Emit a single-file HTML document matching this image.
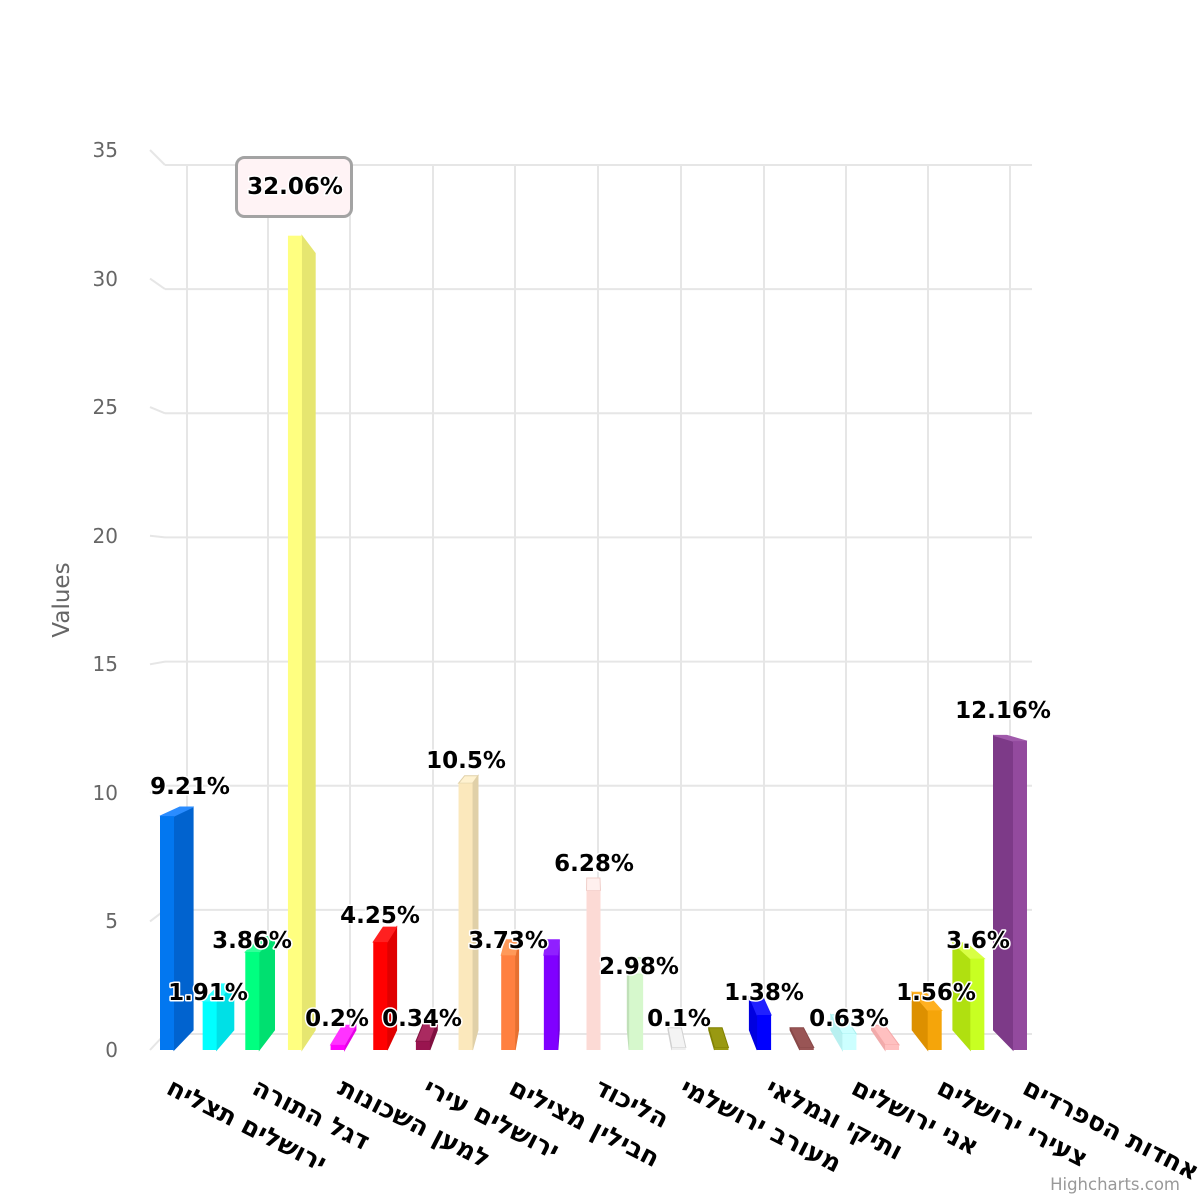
<!DOCTYPE html>
<html><head><meta charset="utf-8"><style>
html,body{margin:0;padding:0;background:#fff;}
svg{display:block;font-family:"DejaVu Sans","Liberation Sans",sans-serif;}
.dl{font-size:23px;font-weight:bold;fill:#000;stroke:#fff;stroke-width:3px;paint-order:stroke;stroke-linejoin:round;text-anchor:middle;}
.yl{font-size:20px;fill:#666;text-anchor:end;}
.xl{font-size:25.5px;font-weight:bold;fill:#000;}
</style></head><body>
<svg width="1200" height="1200" viewBox="0 0 1200 1200" xmlns="http://www.w3.org/2000/svg">
<rect width="1200" height="1200" fill="#fff"/>
<g stroke="#e6e6e6" stroke-width="2" fill="none">
<path d="M165 1034H1032M165 909.9H1032M165 785.7H1032M165 661.6H1032M165 537.4H1032M165 413.3H1032M165 289.1H1032M165 165H1032"/>
<path d="M150 1050L165 1034M150 921.4L165 909.9M150 792.9L165 785.7M150 664.3L165 661.6M150 535.7L165 537.4M150 407.1L165 413.3M150 278.6L165 289.1M150 150L165 165"/>
<path d="M187 165V1034M268 165V1034M350 165V1034M433 165V1034M515 165V1034M598 165V1034M681 165V1034M764 165V1034M846 165V1034M928 165V1034M1010 165V1034"/>
</g>
<g class="yl">
<text x="118" y="1057">0</text><text x="118" y="928">5</text><text x="118" y="800">10</text><text x="118" y="671">15</text><text x="118" y="543">20</text><text x="118" y="414">25</text><text x="118" y="286">30</text><text x="118" y="157">35</text>
</g>
<text transform="translate(69,600) rotate(-90)" text-anchor="middle" font-size="23" fill="#666">Values</text>

<g stroke-width="1">
<polygon points="174,1050 174,816.1 193.1,807 193.1,1030.1" fill="#0163cf" stroke="#0163cf"/>
<polygon points="160,816.1 174,816.1 193.1,807 179.8,807" fill="#2a8cff" stroke="#2a8cff"/>
<rect x="160" y="816.1" width="14" height="233.9" fill="#0277f0"/>
<polygon points="216.65,1050 216.65,1001.5 233.8,983.9 233.8,1030.1" fill="#00e0e6" stroke="#00e0e6"/>
<polygon points="202.65,1001.5 216.65,1001.5 233.8,983.9 220.5,983.9" fill="#33ffff" stroke="#33ffff"/>
<rect x="202.65" y="1001.5" width="14" height="48.5" fill="#00ffff"/>
<polygon points="259.3,1050 259.3,952 274.5,936.6 274.5,1030.1" fill="#00e070" stroke="#00e070"/>
<polygon points="245.3,952 259.3,952 274.5,936.6 261.2,936.6" fill="#33ff99" stroke="#33ff99"/>
<rect x="245.3" y="952" width="14" height="98" fill="#00ff80"/>
<polygon points="301.95,1050 301.95,235.7 315.2,253.3 315.2,1030.1" fill="#e6e670" stroke="#e6e670"/>
<rect x="287.95" y="235.7" width="14" height="814.3" fill="#ffff80"/>
<polygon points="344.6,1050 344.6,1044.9 355.9,1025.3 355.9,1030.1" fill="#e600e6" stroke="#e600e6"/>
<polygon points="330.6,1044.9 344.6,1044.9 355.9,1025.3 342.5,1025.3" fill="#ff33ff" stroke="#ff33ff"/>
<rect x="330.6" y="1044.9" width="14" height="5.1" fill="#ff00ff"/>
<polygon points="387.25,1050 387.25,942.05 396.6,927.1 396.6,1030.1" fill="#e00000" stroke="#e00000"/>
<polygon points="373.25,942.05 387.25,942.05 396.6,927.1 383.2,927.1" fill="#ff2020" stroke="#ff2020"/>
<rect x="373.25" y="942.05" width="14" height="107.95" fill="#ff0000"/>
<polygon points="429.9,1050 429.9,1041.4 437.3,1021.9 437.3,1030.1" fill="#801040" stroke="#801040"/>
<polygon points="415.9,1041.4 429.9,1041.4 437.3,1021.9 423.9,1021.9" fill="#aa2a60" stroke="#801040"/>
<rect x="415.9" y="1041.4" width="14" height="8.6" fill="#99144f"/>
<polygon points="472.55,1050 472.55,783.3 478,775.7 478,1030.1" fill="#e0d0a8" stroke="#e0d0a8"/>
<polygon points="458.55,783.3 472.55,783.3 478,775.7 464.6,775.7" fill="#fff2d0" stroke="#e0d0a8"/>
<rect x="458.55" y="783.3" width="14" height="266.7" fill="#fbe8bc"/>
<polygon points="515.2,1050 515.2,955.3 518.6,939.8 518.6,1030.1" fill="#e67030" stroke="#e67030"/>
<polygon points="501.2,955.3 515.2,955.3 518.6,939.8 505.3,939.8" fill="#ff9959" stroke="#ff9959"/>
<rect x="501.2" y="955.3" width="14" height="94.7" fill="#ff8040"/>
<polygon points="557.85,1050 557.85,955.3 559.3,939.8 559.3,1030.1" fill="#7000e0" stroke="#7000e0"/>
<polygon points="543.85,955.3 557.85,955.3 559.3,939.8 546,939.8" fill="#9020ff" stroke="#9020ff"/>
<rect x="543.85" y="955.3" width="14" height="94.7" fill="#8000ff"/>
<polygon points="586.5,890.5 600.5,890.5 600,878 586.7,878" fill="#fff0ee" stroke="#f0cfca"/>
<rect x="586.5" y="890.5" width="14" height="159.5" fill="#fcdad5"/>
<polygon points="629.15,1050 629.15,974.3 627.3,957.9 627.3,1030.1" fill="#c0e0b8" stroke="#c0e0b8"/>
<polygon points="629.15,974.3 643.15,974.3 640.7,957.9 627.3,957.9" fill="#ecffe4" stroke="#c8eebc"/>
<rect x="629.15" y="974.3" width="14" height="75.7" fill="#d6f8cc"/>
<polygon points="671.8,1050 671.8,1047.5 668,1027.7 668,1030.1" fill="#d6d6d6" stroke="#d0d0d0"/>
<polygon points="671.8,1047.5 685.8,1047.5 681.4,1027.7 668,1027.7" fill="#f4f4f4" stroke="#d0d0d0"/>
<rect x="671.8" y="1047.5" width="14" height="2.5" fill="#eeeeee"/>
<polygon points="714.45,1050 714.45,1047.5 708.7,1027.7 708.7,1030.1" fill="#86860e" stroke="#86860e"/>
<polygon points="714.45,1047.5 728.45,1047.5 722.1,1027.7 708.7,1027.7" fill="#999911" stroke="#808000"/>
<rect x="714.45" y="1047.5" width="14" height="2.5" fill="#999911"/>
<polygon points="757.1,1050 757.1,1015 749.4,996.7 749.4,1030.1" fill="#0000e0" stroke="#0000e0"/>
<polygon points="757.1,1015 771.1,1015 762.8,996.7 749.4,996.7" fill="#2020ff" stroke="#2020ff"/>
<rect x="757.1" y="1015" width="14" height="35" fill="#0000ff"/>
<polygon points="799.75,1050 799.75,1047.5 790.1,1027.7 790.1,1030.1" fill="#884848" stroke="#884848"/>
<polygon points="799.75,1047.5 813.75,1047.5 803.5,1027.7 790.1,1027.7" fill="#995555" stroke="#884848"/>
<rect x="799.75" y="1047.5" width="14" height="2.5" fill="#995555"/>
<polygon points="842.4,1050 842.4,1034 830.8,1014.8 830.8,1030.1" fill="#b8f0f0" stroke="#b8f0f0"/>
<polygon points="842.4,1034 856.4,1034 844.1,1014.8 830.8,1014.8" fill="#ccffff" stroke="#aaf0f0"/>
<rect x="842.4" y="1034" width="14" height="16" fill="#ccffff"/>
<polygon points="885.05,1050 885.05,1044.9 871.5,1025.3 871.5,1030.1" fill="#f0aaaa" stroke="#f0aaaa"/>
<polygon points="885.05,1044.9 899.05,1044.9 884.8,1025.3 871.5,1025.3" fill="#ffc0c0" stroke="#f5a8a8"/>
<rect x="885.05" y="1044.9" width="14" height="5.1" fill="#ffc0c0"/>
<polygon points="927.7,1050 927.7,1010.4 912.2,992.3 912.2,1030.1" fill="#dd9000" stroke="#dd9000"/>
<polygon points="927.7,1010.4 941.7,1010.4 925.5,992.3 912.2,992.3" fill="#ffb020" stroke="#ffb020"/>
<rect x="927.7" y="1010.4" width="14" height="39.6" fill="#f5a50a"/>
<polygon points="970.35,1050 970.35,958.6 952.9,942.9 952.9,1030.1" fill="#b0e010" stroke="#b0e010"/>
<polygon points="970.35,958.6 984.35,958.6 966.2,942.9 952.9,942.9" fill="#d8ff44" stroke="#d8ff44"/>
<rect x="970.35" y="958.6" width="14" height="91.4" fill="#c8ff22"/>
<polygon points="1013,1050 1013,741.1 993.5,735.4 993.5,1030.1" fill="#7d3a88" stroke="#7d3a88"/>
<polygon points="1013,741.1 1027,741.1 1006.9,735.4 993.5,735.4" fill="#a05aab" stroke="#a05aab"/>
<rect x="1013" y="741.1" width="14" height="308.9" fill="#934a9e"/>
</g>

<rect x="236.5" y="157.5" width="115" height="59" rx="8" ry="8" fill="#fff3f5" stroke="#a3a3a3" stroke-width="3"/>
<g class="dl">
<text x="190" y="794">9.21%</text>
<text x="208" y="1000">1.91%</text>
<text x="252" y="948">3.86%</text>
<text x="295" y="194">32.06%</text>
<text x="337" y="1026">0.2%</text>
<text x="380" y="923">4.25%</text>
<text x="422" y="1026">0.34%</text>
<text x="466" y="768">10.5%</text>
<text x="508" y="948">3.73%</text>
<text x="594" y="871">6.28%</text>
<text x="639" y="974">2.98%</text>
<text x="679" y="1026">0.1%</text>
<text x="764" y="1000">1.38%</text>
<text x="849" y="1026">0.63%</text>
<text x="936" y="1000">1.56%</text>
<text x="978" y="948">3.6%</text>
<text x="1003" y="718">12.16%</text>
</g>

<g class="xl">
<text transform="translate(165,1093) rotate(27)">ירושלים תצליח</text>
<text transform="translate(250.6,1093) rotate(27)">דגל התורה</text>
<text transform="translate(336.2,1093) rotate(27)">למען השכונות</text>
<text transform="translate(421.8,1093) rotate(27)">ירושלים עירי</text>
<text transform="translate(507.4,1093) rotate(27)">חבילין מצילים</text>
<text transform="translate(593,1093) rotate(27)">הליכוד</text>
<text transform="translate(678.6,1093) rotate(27)">מעורב ירושלמי</text>
<text transform="translate(764.2,1093) rotate(27)">ותיקי וגמלאי</text>
<text transform="translate(849.8,1093) rotate(27)">אני ירושלים</text>
<text transform="translate(935.4,1093) rotate(27)">צעירי ירושלים</text>
<text transform="translate(1021,1093) rotate(27)">אחדות הספרדים</text>
</g>

<text x="1180" y="1190" text-anchor="end" font-size="16.5" fill="#999">Highcharts.com</text>
</svg>
</body></html>
